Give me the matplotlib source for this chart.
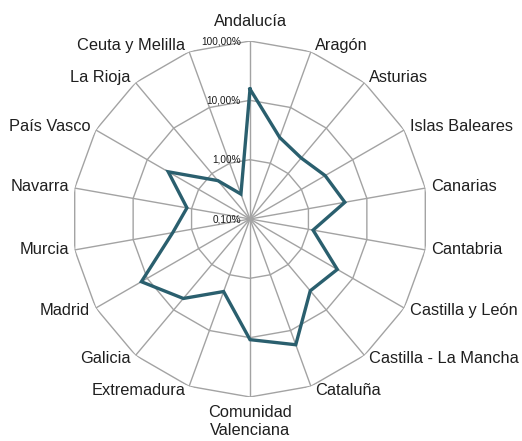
import numpy as np
import matplotlib
matplotlib.use("Agg")
import matplotlib.pyplot as plt

plt.rcParams['font.family'] = ['Liberation Sans', 'DejaVu Sans']

categories = ["Andalucía", "Aragón", "Asturias", "Islas Baleares", "Canarias",
              "Cantabria", "Castilla y León", "Castilla - La Mancha", "Cataluña",
              "Comunidad\nValenciana", "Extremadura", "Galicia", "Madrid", "Murcia",
              "Navarra", "País Vasco", "La Rioja", "Ceuta y Melilla"]
values = [15.5, 2.9, 2.2, 2.9, 4.2, 1.2, 5.0, 3.8, 18.0,
          10.8, 2.0, 5.6, 13.0, 2.1, 1.2, 3.9, 0.7, 0.28]
ticks = [0.1, 1.0, 10.0, 100.0]
tick_labels = ["0,10%", "1,00%", "10,00%", "100,00%"]

W, H = 522, 441
fig = plt.figure(figsize=(W / 100, H / 100), dpi=100)
cx, cy, R = 250, 219, 178
ax = fig.add_axes([(cx - R) / W, (H - cy - R) / H, 2 * R / W, 2 * R / H],
                  projection='polar')
ax.set_theta_zero_location('N')
ax.set_theta_direction(-1)
ax.set_rscale('log')
ax.set_rlim(ticks[0], ticks[-1])
ax.grid(False)
ax.spines['polar'].set_visible(False)
ax.set_xticks([])
ax.set_yticks([])
ax.patch.set_alpha(0)

n = len(categories)
theta = np.arange(n) * 2 * np.pi / n
grid_c = '#a3a3a3'

# polygon gridlines
for t in ticks[1:]:
    ax.plot(np.append(theta, theta[0]), [t] * (n + 1), color=grid_c, lw=1.0, zorder=1)
# spokes
for th in theta:
    ax.plot([th, th], [ticks[0], ticks[-1]], color=grid_c, lw=1.0, zorder=1)

# data
ax.plot(np.append(theta, theta[0]), values + values[:1], color='#2a5f6e', lw=2.4,
        zorder=3, solid_joinstyle='miter')

# radial tick labels
for t, lab in zip(ticks, tick_labels):
    ax.annotate(lab, xy=(0, t), xytext=(-9, 0), textcoords='offset pixels',
                ha='right', va='center', fontsize=7.2, color='#1a1a1a', zorder=4)

# category labels
for th, lab in zip(theta, categories):
    s, c = np.sin(th), np.cos(th)
    if abs(s) < 1e-6:
        ha = 'center'
        dx = 0
        if c > 0:
            va, dy = 'bottom', 12
        else:
            va, dy = 'top', -8
    else:
        ha = 'left' if s > 0 else 'right'
        dx = (3 + 3 * abs(s)) * np.sign(s)
        va = 'center'
        dy = 1 + 6 * c
    ax.annotate(lab, xy=(th, ticks[-1]), xytext=(dx, dy), textcoords='offset pixels',
                ha=ha, va=va, fontsize=11.8, color='#1f1f1f', linespacing=1.25,
                annotation_clip=False)

fig.savefig('out.png', dpi=100)
